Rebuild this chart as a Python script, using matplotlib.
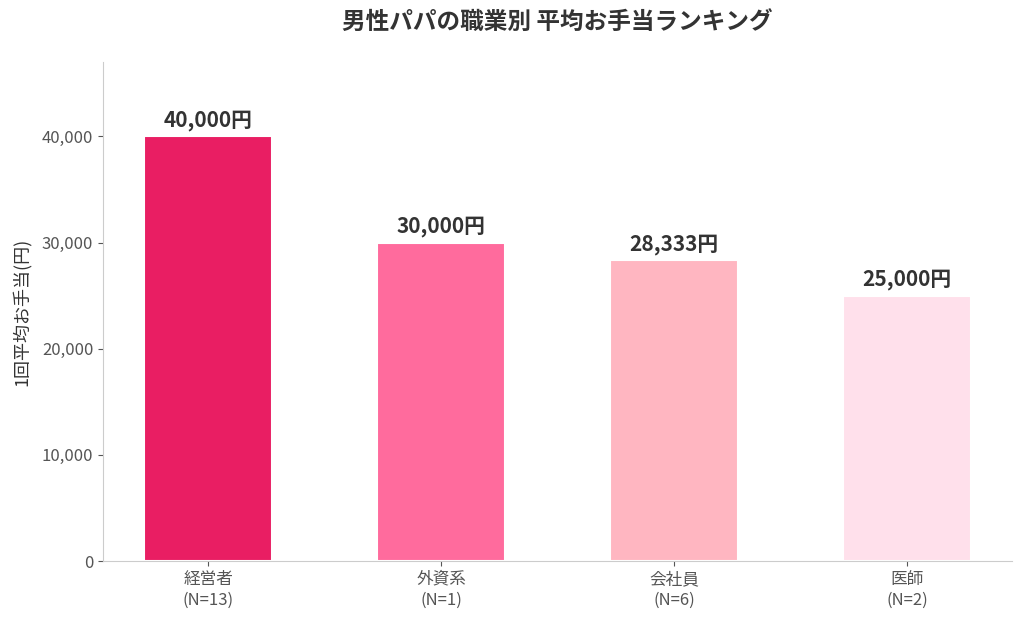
import matplotlib
matplotlib.use('Agg')
import matplotlib.pyplot as plt

plt.rcParams['font.family'] = ['Noto Sans CJK JP', 'DejaVu Sans']

# data
jobs = ['経営者', '外資系', '会社員', '医師']
counts = [13, 1, 6, 2]
amounts = [40000, 30000, 28333, 25000]
colors = ['#E91E63', '#FF6B9D', '#FFB6C1', '#FFE0EB']

fig = plt.figure(figsize=(10.24, 6.22), dpi=100)
ax = fig.add_axes([0.1006, 0.098, 0.888, 0.8023])

x = range(len(jobs))
bars = ax.bar(x, amounts, width=0.55, color=colors, edgecolor='white', linewidth=1.5)

for b, v in zip(bars, amounts):
    ax.text(b.get_x() + b.get_width() / 2, v + 500, f'{v:,}円',
            ha='center', va='bottom', fontsize=15, fontweight='bold', color='#333333')

ax.set_xticks(list(x))
ax.set_xticklabels([f'{j}\n(N={n})' for j, n in zip(jobs, counts)], fontsize=12, color='#333333',
                   linespacing=1.3)
ax.set_ylim(0, 47000)
ax.set_yticks([0, 10000, 20000, 30000, 40000])
ax.set_yticklabels([f'{t:,}' for t in [0, 10000, 20000, 30000, 40000]], fontsize=12, color='#333333')
ax.set_ylabel('1回平均お手当(円)', fontsize=13, color='#333333', labelpad=8)
ax.set_title('男性パパの職業別 平均お手当ランキング', fontsize=17, fontweight='bold',
             color='#333333', pad=24)

for s in ['top', 'right']:
    ax.spines[s].set_visible(False)
for s in ['left', 'bottom']:
    ax.spines[s].set_color('#CCCCCC')
ax.tick_params(colors='#555555')

fig.savefig('out.png', dpi=100)
